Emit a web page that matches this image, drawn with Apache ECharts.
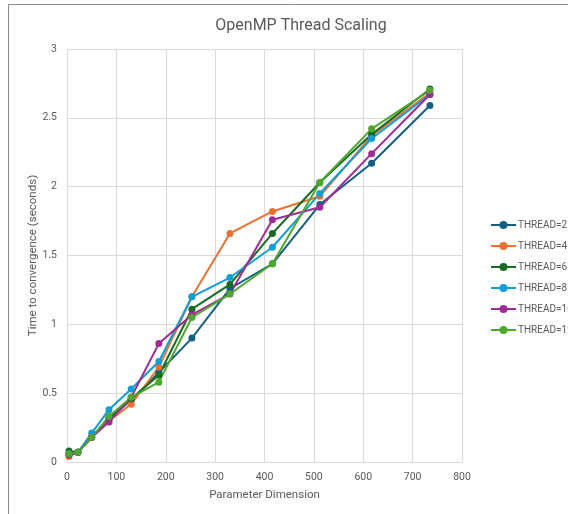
<!DOCTYPE html>
<html>
<head>
<meta charset="utf-8">
<script src="https://cdn.jsdelivr.net/npm/echarts@6/dist/echarts.min.js"></script>
<style>html,body{margin:0;padding:0;background:#fff;}#c{width:568px;height:514px;}</style>
</head>
<body>
<div id="c"></div>
<script>
const xValues = [4, 22, 50, 85, 130, 186, 253, 330, 416, 512, 617, 735];
const thread2  = [0.06, 0.07, 0.18, 0.31, 0.45, 0.65, 0.90, 1.26, 1.44, 1.87, 2.17, 2.59];
const thread4  = [0.04, 0.07, 0.18, 0.30, 0.42, 0.69, 1.20, 1.66, 1.82, 1.93, 2.37, 2.68];
const thread6  = [0.08, 0.07, 0.18, 0.32, 0.46, 0.63, 1.11, 1.29, 1.66, 2.03, 2.38, 2.71];
const thread8  = [0.06, 0.07, 0.21, 0.38, 0.53, 0.73, 1.20, 1.34, 1.56, 1.95, 2.35, 2.67];
const thread10 = [0.05, 0.07, 0.18, 0.29, 0.47, 0.86, 1.07, 1.22, 1.76, 1.85, 2.24, 2.67];
const thread12 = [0.06, 0.07, 0.18, 0.33, 0.47, 0.58, 1.05, 1.22, 1.44, 2.03, 2.42, 2.70];
const seriesNames = ['THREAD=2', 'THREAD=4', 'THREAD=6', 'THREAD=8', 'THREAD=10', 'THREAD=12'];
const seriesData = [thread2, thread4, thread6, thread8, thread10, thread12];
const colors = ['#156082', '#E97132', '#196B24', '#0F9ED5', '#A02B93', '#4EA72E'];
const FONT = 'Roboto, "Open Sans", sans-serif';

const chart = echarts.init(document.getElementById('c'));
chart.setOption({
  animation: false,
  color: colors,
  textStyle: { fontFamily: FONT },
  title: {
    text: 'OpenMP Thread Scaling',
    left: 296, top: 13, textAlign: 'center',
    textStyle: { fontSize: 16, fontWeight: 'normal', color: '#595959', fontFamily: FONT }
  },
  graphic: [{
    type: 'rect', shape: { x: 8.5, y: 4.5, width: 600, height: 600 },
    style: { fill: 'none', stroke: '#8c8c8c', lineWidth: 1 }, silent: true, z: -1
  }],
  legend: {
    orient: 'vertical', left: 490, top: 220, width: 200, padding: 0,
    itemGap: 11, itemWidth: 25, itemHeight: 10,
    textStyle: { fontSize: 10, color: '#595959', fontFamily: FONT, padding: [0, 0, 0, -3], width: 100, overflow: 'none' },
    data: seriesNames
  },
  grid: { left: 67, top: 49, width: 395, height: 413, containLabel: false },
  xAxis: {
    type: 'value', min: 0, max: 800, interval: 100,
    name: 'Parameter Dimension', nameLocation: 'middle', nameGap: 27, nameMoveOverlap: false,
    nameTextStyle: { fontSize: 11.5, color: '#595959', fontFamily: FONT },
    axisLine: { show: true, lineStyle: { color: '#d9d9d9' } },
    axisTick: { show: false },
    axisLabel: { fontSize: 10.5, color: '#595959', margin: 10 },
    splitLine: { show: true, lineStyle: { color: '#d9d9d9' } }
  },
  yAxis: {
    type: 'value', min: 0, max: 3, interval: 0.5,
    name: 'Time to convergence (seconds)', nameLocation: 'middle', nameGap: 28, nameMoveOverlap: false,
    nameTextStyle: { fontSize: 11.5, color: '#595959', fontFamily: FONT },
    axisLine: { show: false },
    axisTick: { show: false },
    axisLabel: { fontSize: 10.5, color: '#595959', margin: 10 },
    splitLine: { show: true, lineStyle: { color: '#d9d9d9' } }
  },
  series: seriesNames.map((n, i) => ({
    name: n, type: 'line',
    data: xValues.map((x, j) => [x, seriesData[i][j]]),
    symbol: 'circle', symbolSize: 7,
    lineStyle: { width: 2 },
    itemStyle: { color: colors[i] }
  }))
});
</script>
</body>
</html>
